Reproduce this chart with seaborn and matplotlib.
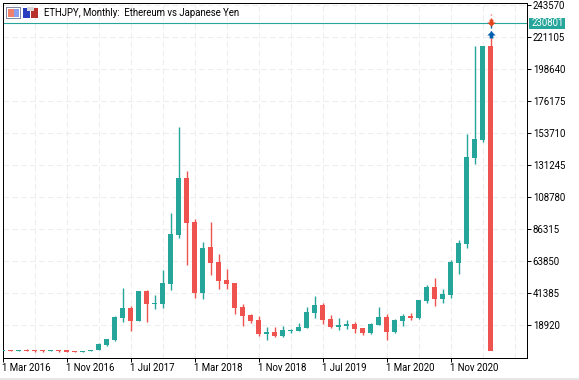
import numpy as np
import pandas as pd
import seaborn as sns
import matplotlib.pyplot as plt
from matplotlib.patches import Rectangle
from matplotlib.transforms import ScaledTranslation

# monthly candles, Mar 2016 .. Apr 2021
opens = [1000, 1370, 668, 1370, 1370, 1370, 668, 1370, 1600, 668, 100, 668,
         1370, 5081, 8390, 23834, 30854, 21728, 42788, 33662, 33662, 47702, 82100, 122114,
         91226, 41384, 73676, 63146, 50510, 48404, 31556, 25940, 22430, 12602, 14006, 11198,
         14708, 14708, 16814, 27344, 32960, 23132, 17516, 18218, 19622, 16814, 13304, 18920,
         24536, 14006, 21728, 25238, 23834, 35768, 45596, 37172, 39980, 62444, 75782, 136154,
         148790, 214778]
highs = [1700, 1370, 1370, 2072, 1500, 1500, 1370, 1700, 1600, 668, 1019, 1721,
         6284, 8881, 25238, 44894, 32258, 42788, 43490, 39980, 57530, 97544, 157916, 127028,
         93332, 77186, 91226, 68762, 58232, 48404, 33662, 26642, 25238, 17516, 17516, 18218,
         16112, 20324, 31556, 39278, 34364, 25940, 23834, 22430, 21026, 16814, 20324, 31556,
         26642, 23132, 26642, 27344, 36470, 47000, 51914, 44192, 64550, 78590, 153002, 214778,
         214778, 237242]
lows = [800, 668, 668, 668, 200, 100, 668, 100, 100, 100, 100, 668,
        1370, 4389, 7899, 21026, 14708, 21728, 21026, 30152, 30854, 43490, 79994, 61040,
        37874, 37172, 53990, 44192, 44192, 26642, 18218, 20324, 11198, 8390, 10496, 10496,
        13304, 14708, 16814, 23834, 19622, 16814, 15410, 16112, 13304, 11900, 12602, 18920,
        8390, 13304, 18218, 22430, 23132, 34364, 32258, 34364, 37874, 54722, 72974, 131942,
        147386, 668]
closes = [1700, 668, 1370, 668, 668, 668, 1370, 668, 100, 100, 1019, 1721,
          5582, 8881, 24536, 30854, 21939, 42788, 33662, 34364, 48404, 82802, 122114, 90524,
          41384, 72974, 62444, 49808, 47702, 30854, 25238, 21728, 12602, 14006, 11198, 15410,
          15410, 17516, 28046, 32960, 22430, 17516, 18920, 19622, 16112, 13304, 19622, 24536,
          14006, 22430, 25238, 23834, 36470, 45596, 37172, 40682, 63146, 76484, 136856, 149492,
          214778, 668]
price_ticks = [243570, 221105, 198640, 176175, 153710, 131245, 108780, 86315, 63850, 41385, 18920]
date_labels = ['1 Mar 2016', '1 Nov 2016', '1 Jul 2017', '1 Mar 2018',
               '1 Nov 2018', '1 Jul 2019', '1 Mar 2020', '1 Nov 2020']
current_price = 230801
buy_price = 222500
sell_price = 231700
title = 'ETHJPY, Monthly:  Ethereum vs Japanese Yen'

GREEN = '#26A69A'
RED = '#EF5350'
W, H = 579, 380
FS = 9.7 * 0.72

sns.set_theme(style='white')
plt.rcParams['font.family'] = ['Roboto', 'DejaVu Sans']

df = pd.DataFrame({'o': opens, 'h': highs, 'l': lows, 'c': closes})
df['i'] = np.arange(len(df))
df['bottom'] = df[['o', 'c']].min(axis=1)
df['size'] = (df['c'] - df['o']).abs()
df['up'] = df['c'] >= df['o']

fig = plt.figure(figsize=(W / 100, H / 100), dpi=100)
ax = fig.add_axes([2.5 / W, 1 - 357.5 / H, 524 / W, 355 / H])

# wicks, last one is split up because of the trade markers
wicks = df.iloc[:-1]
ax.vlines(wicks['i'], wicks['l'], wicks['h'], colors=[GREEN if u else RED for u in wicks['up']],
          linewidth=1.0, zorder=2)

# candle bodies
for up, color in [(True, GREEN), (False, RED)]:
    sub = df[df['up'] == up]
    sns.barplot(data=sub, x='i', y='size', bottom=sub['bottom'].values, native_scale=True,
                color=color, saturation=1, width=0.625, linewidth=0, errorbar=None,
                ax=ax, zorder=3)

last = df['i'].iloc[-1]
ax.vlines(last, opens[-1], buy_price - 800, colors=RED, linewidth=1.0, zorder=2)
ax.vlines(last, sell_price, highs[-1], colors=RED, linewidth=1.0, linestyles=(0, (3, 2)), zorder=2)
ax.vlines(last, buy_price, sell_price, colors='#0060B0', linewidth=1.0, linestyles=(0, (3, 2)), zorder=2)

up_arrow = [(0, 1), (1, 0), (0.45, 0), (0.45, -0.7), (-0.45, -0.7), (-0.45, 0), (-1, 0)]
down_arrow = [(x, -y) for x, y in up_arrow]
ax.plot([last], [buy_price], marker=up_arrow, ms=6, color='#0060B0', mew=0, zorder=5)
ax.plot([last], [sell_price], marker=down_arrow, ms=6, color='#E2441C', mew=0, zorder=5)

ax.axhline(current_price, color=GREEN, linewidth=0.8, zorder=1)

ax.set_xlim(0, 65.5)
ax.set_ylim(-3895, 245315)
ax.set_xlabel('')
ax.set_ylabel('')

ax.set_xticks(np.arange(len(date_labels)) * 8)
ax.set_xticklabels(date_labels, ha='left', fontsize=FS, color='black')
ax.set_xticks(np.arange(0, 66, 4), minor=True)
ax.yaxis.tick_right()
ax.set_yticks(price_ticks)
ax.set_yticklabels([str(p) for p in price_ticks], fontsize=FS, color='black')
ax.tick_params(axis='x', which='major', direction='out', length=2.6, width=0.72, color='black', pad=1.2, bottom=True)
ax.tick_params(axis='x', which='minor', length=0)
ax.tick_params(axis='y', direction='out', length=3, width=0.72, color='black', pad=1.5, right=True)

# labels sit a bit left of their tick
shift = ScaledTranslation(-1 / 100, 0, fig.dpi_scale_trans)
for lab in ax.get_xticklabels():
    lab.set_transform(lab.get_transform() + shift)

ax.grid(True, which='both', color='#eeeeee', linewidth=0.8, linestyle=(0, (5, 3)))
ax.set_axisbelow(True)
for s in ax.spines.values():
    s.set_visible(True)
    s.set_color('black')
    s.set_linewidth(0.72)

# current price label
y_cur = ax.transData.transform((0, current_price))[1] / H
fig.patches.append(Rectangle((529 / W, y_cur - 5.5 / H), 36 / W, 11 / H, transform=fig.transFigure,
                             facecolor=GREEN, edgecolor='none', zorder=4))
fig.text(532 / W, y_cur, str(current_price), color='white', fontsize=FS, va='center', ha='left', zorder=5)

fig.text(44 / W, 1 - 12.5 / H, title, color='black', fontsize=FS, va='center', ha='left', zorder=5)

# small toolbar icons and the bottom strip of the terminal window
def px_rect(x, y, w, h, color):
    fig.patches.append(Rectangle((x / W, 1 - (y + h) / H), w / W, h / H, transform=fig.transFigure,
                                 facecolor=color, edgecolor='none', zorder=4))

px_rect(6, 7, 15, 12, '#7f8aa8')
px_rect(7, 8, 13, 10, '#ffffff')
px_rect(8, 9, 6, 8, '#f0806c')
px_rect(14, 9, 5, 8, '#8aa0ec')
px_rect(23, 8, 7, 10, '#2a3fc0')
px_rect(31, 8, 7, 10, '#b8302c')
px_rect(27, 7, 7, 4, '#d8d8d8')
px_rect(0, 378, W, 2, '#e6e6e6')

fig.savefig('out.png', dpi=100, facecolor='white')
